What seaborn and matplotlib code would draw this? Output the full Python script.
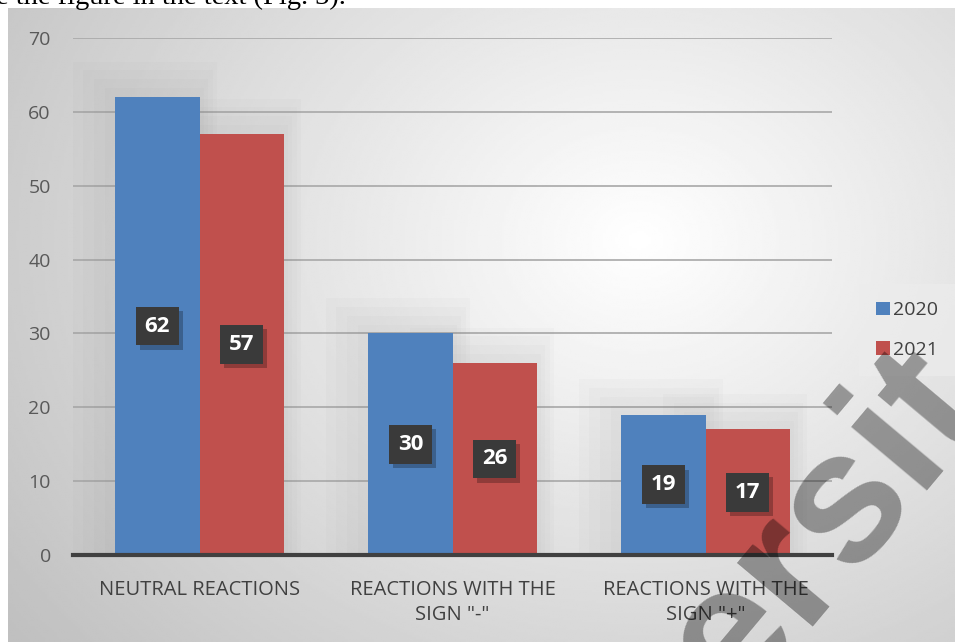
import numpy as np
import pandas as pd
import matplotlib
matplotlib.use("Agg")
import matplotlib.pyplot as plt
import matplotlib.patheffects as pe
from matplotlib.patches import Rectangle
import seaborn as sns

# data
categories = ["NEUTRAL REACTIONS", "REACTIONS WITH THE\nSIGN \"-\"", "REACTIONS WITH THE\nSIGN \"+\""]
years = ["2020", "2021"]
values_2020 = [62, 30, 19]
values_2021 = [57, 26, 17]
y_ticks = [0, 10, 20, 30, 40, 50, 60, 70]
colors = ["#4F81BD", "#C0504D"]

df = pd.DataFrame({
    "category": categories * 2,
    "year": [years[0]] * 3 + [years[1]] * 3,
    "value": values_2020 + values_2021,
})

sns.set_style("white")
plt.rcParams["font.family"] = ["Open Sans", "DejaVu Sans"]

W, H = 955, 642
fig = plt.figure(figsize=(W / 100, H / 100), dpi=100, facecolor="white")

# radial gradient panel behind the chart
bg = fig.add_axes([8 / W, 0, 1 - 8 / W, (H - 8) / H], zorder=-2)
gx, gy = np.meshgrid(np.linspace(8, W, 400), np.linspace(8, H, 300))
r = np.sqrt(((gx - 640) / 640) ** 2 + ((gy - 240) / 520) ** 2)
shade = 1.0 - 0.25 * np.clip(r, 0, 1.25) / 1.25
bg.imshow(shade, cmap="gray", vmin=0, vmax=1, aspect="auto",
          extent=[8, W, H, 8], interpolation="bilinear")
bg.axis("off")

# text line of the document above the figure
fig.text(-0.004, 1 - 4 / H, "e the figure in the text (Fig. 3).",
         fontfamily="Liberation Serif", fontsize=20.5, color="black",
         ha="left", va="baseline")

ax = fig.add_axes([73 / W, 87 / H, (832 - 73) / W, (555 - 38) / H])
ax.set_facecolor("none")

sns.barplot(data=df, x="category", y="value", hue="year", palette=colors,
            width=0.665, gap=0, saturation=1, linewidth=0, edgecolor="none",
            ax=ax, legend=True, zorder=3)

# soft halo around the bars
for p in list(ax.patches):
    x0, w, h = p.get_x(), p.get_width(), p.get_height()
    for k in range(1, 5):
        dx = 0.035 * k
        dy = 1.2 * k
        ax.add_patch(Rectangle((x0 - dx * 1.2, 0), w + dx * 1.7, h + dy,
                               fc="#808080", ec="none", alpha=0.03, zorder=1))

ax.set_xlim(-0.5, 2.5)
ax.set_ylim(0, 70)
ax.set_yticks(y_ticks)
ax.yaxis.grid(True, color="#a8a8a8", lw=1.2, zorder=0)
ax.set_axisbelow(True)
ax.tick_params(axis="y", length=0, pad=16, labelsize=14, labelcolor="#595959")
ax.tick_params(axis="x", which="major", length=0, pad=18, labelsize=14.5, labelcolor="#404040")
ax.set_xticks([-0.5, 0.5, 1.5, 2.5], minor=True)
ax.tick_params(axis="x", which="minor", length=8, width=2.5, color="#404040", direction="out")
for lab in ax.get_xticklabels():
    lab.set_multialignment("center")
    lab.set_linespacing(1.35)
ax.set_xlabel("")
ax.set_ylabel("")
for s in ["top", "right", "left"]:
    ax.spines[s].set_visible(False)
ax.spines["bottom"].set_color("#404040")
ax.spines["bottom"].set_linewidth(3)
ax.spines["bottom"].set_zorder(5)

# value labels in dark boxes
for cont in ax.containers:
    texts = ax.bar_label(cont, label_type="center", color="white", fontsize=16,
                         fontweight="bold",
                         bbox=dict(boxstyle="square,pad=0.4", fc="#3a3a3a", ec="none"),
                         zorder=6)
    for t in texts:
        t.get_bbox_patch().set_path_effects(
            [pe.withSimplePatchShadow(offset=(3, -3), shadow_rgbFace="black", alpha=0.25)])

leg = ax.legend(loc="center left", bbox_to_anchor=(1.03, 0.435), frameon=True,
                fontsize=14, handlelength=0.7, handleheight=0.7, handletextpad=0.15,
                labelspacing=1.1, borderpad=0.6, labelcolor="#404040")
leg.get_frame().set_facecolor("#ececec")
leg.get_frame().set_edgecolor("none")
leg.get_frame().set_alpha(0.7)
leg.get_frame().set_boxstyle("square")

# watermark fragment
fig.text(826 / W, 1 - 527 / H, "ersit", rotation=50, fontsize=135,
         fontfamily="Liberation Sans", fontweight="bold", color="black", alpha=0.36,
         ha="center", va="center", rotation_mode="anchor", zorder=20)

fig.savefig("out.png", dpi=100, facecolor="white")
